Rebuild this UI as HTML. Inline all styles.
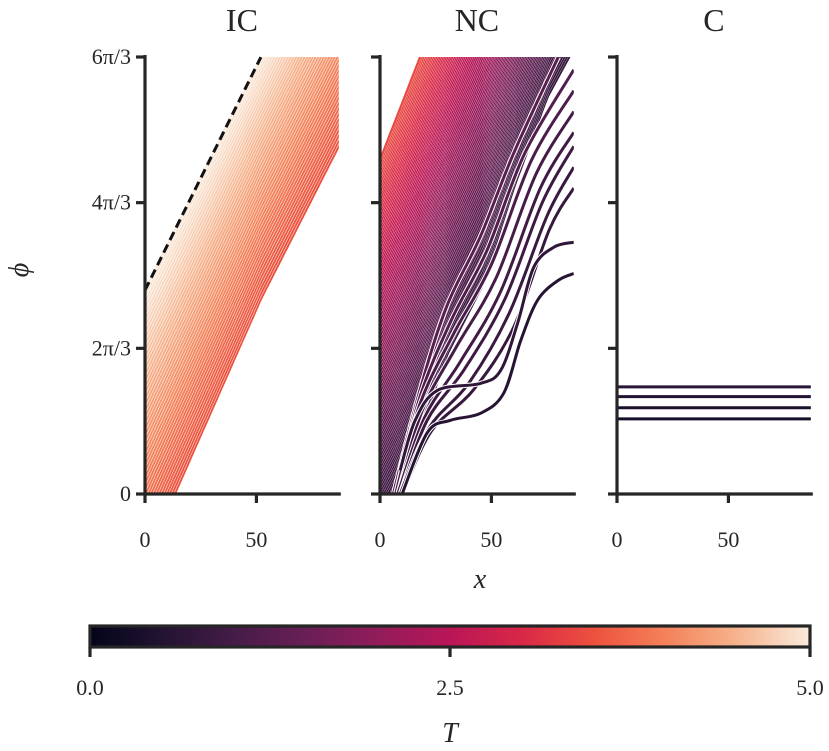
<!DOCTYPE html>
<html><head><meta charset="utf-8"><style>
body{margin:0;background:#fff}
svg{display:block}
text{font-family:"Liberation Serif",serif;fill:#262626}
</style></head><body>
<svg id="chart" width="829" height="751">
<defs>
<linearGradient id="rocket" x1="0" x2="1" y1="0" y2="0">
<stop offset="0" stop-color="#03051a"/><stop offset="0.1" stop-color="#221331"/><stop offset="0.2" stop-color="#451c47"/><stop offset="0.3" stop-color="#691f55"/><stop offset="0.4" stop-color="#921c5b"/><stop offset="0.5" stop-color="#b91657"/><stop offset="0.6" stop-color="#d92847"/><stop offset="0.7" stop-color="#ed513e"/><stop offset="0.8" stop-color="#f4825a"/><stop offset="0.9" stop-color="#f6b48e"/><stop offset="1" stop-color="#faebdd"/>
</linearGradient>
</defs>
</svg>
<script>
// ---- data ----
const panelNames = ["IC","NC","C"];
const yTickLabels = ["0","2\u03c0/3","4\u03c0/3","6\u03c0/3"];
const yTickValues = [0, 2.0944, 4.1888, 6.2832];
const xTickValues = [0, 50];
const cbarTicks = [0, 2.5, 5];
// IC band: top (straight) and bottom path
const icTop = [[0,2.93],[52,6.28],[87,8.5]];
const icBottom = [[-10,-1.7],[13.4,0],[52,2.8],[87,5.0]];
const icTRange = [3.5, 5.0];
const icCount = 46;
const icDashed = [[0,2.93],[52,6.28]];
// NC band
const ncTop = [[0,4.8],[18,6.28],[87,12]];
const ncBottom = [[-5,-0.6],[5.4,0],[18,0.9],[30,2.0],[46,3.0],[60,4.4],[75,5.7],[86,6.35],[100,7.2]];
const ncTRange = [0.8, 3.4];
const ncCount = 90;
// NC stray curves
const ncCurves = [
 [[6,0],[18,1.5],[30,2.7],[45,3.7],[60,4.9],[80,6.28]],
 [[7,0],[18,1.4],[32,2.5],[48,3.5],[65,4.9],[87,6.1]],
 [[7,0],[18,1.3],[33,2.3],[50,3.3],[68,4.8],[87,5.8]],
 [[8,0],[19,1.2],[34,2.1],[52,3.1],[70,4.6],[87,5.5]],
 [[8,0],[20,1.1],[36,1.9],[54,2.9],[72,4.4],[87,5.2]],
 [[9,0],[21,1.05],[38,1.8],[56,2.8],[73,4.2],[87,5.0]],
 [[9,0],[22,0.95],[40,1.6],[58,2.6],[75,4.0],[87,4.7]],
 [[10,0],[23,0.9],[42,1.5],[60,2.4],[76,3.8],[87,4.4]],
 [[9,0.34],[15.8,1.06],[25.7,1.49],[45.1,1.59],[54.2,1.78],[61.8,2.46],[69,3.26],[78.1,3.55],[87,3.62]],
 [[9.9,0],[21.2,0.88],[31.6,1.06],[45.1,1.16],[55.5,1.45],[63.2,2.21],[70.8,2.79],[79.9,3.07],[87,3.17]]
];
const ncCurveT = [1.3,1.2,1.1,1.0,0.95,0.9,0.85,0.8,0.7,0.55];
// C panel constant lines
const cLevels = [1.54,1.40,1.24,1.08];
const cT = [0.6,0.5,0.4,0.3];

// ---- helpers ----
const NS="http://www.w3.org/2000/svg";
const svg=document.getElementById('chart');
function mk(tag,attrs,parent){const e=document.createElementNS(NS,tag);for(const k in attrs)e.setAttribute(k,attrs[k]);(parent||svg).appendChild(e);return e;}
const panels=[{x0:145},{x0:380},{x0:617}];
const xScale=2.228, yTop=57, yBot=494, xMax=87;
const sy=v=>yBot-(v/6.2832)*(yBot-yTop);
const stops=[[0,[3,5,26]],[0.1,[34,19,49]],[0.2,[69,28,71]],[0.3,[105,31,85]],[0.4,[146,28,91]],[0.5,[185,22,87]],[0.6,[217,40,71]],[0.7,[237,81,62]],[0.8,[244,130,90]],[0.9,[246,180,142]],[1,[250,235,221]]];
function cmap(T){let t=Math.max(0,Math.min(1,T/5));for(let i=1;i<stops.length;i++){if(t<=stops[i][0]){const a=stops[i-1],b=stops[i],f=(t-a[0])/(b[0]-a[0]);return 'rgb('+a[1].map((c,j)=>Math.round(c+(b[1][j]-c)*f)).join(',')+')';}}return 'rgb(250,235,221)';}
function interp(path,x){if(x<=path[0][0]){const a=path[0],b=path[1];return a[1]+(b[1]-a[1])*(x-a[0])/(b[0]-a[0]);}for(let i=1;i<path.length;i++){if(x<=path[i][0]){const a=path[i-1],b=path[i];return a[1]+(b[1]-a[1])*(x-a[0])/(b[0]-a[0]);}}const a=path[path.length-2],b=path[path.length-1];return a[1]+(b[1]-a[1])*(x-a[0])/(b[0]-a[0]);}
function smoothD(pts){let d='M'+pts[0][0]+','+pts[0][1];for(let i=1;i<pts.length;i++){const p0=pts[i-2]||pts[i-1],p1=pts[i-1],p2=pts[i],p3=pts[i+1]||p2;const c1=[p1[0]+(p2[0]-p0[0])/6,p1[1]+(p2[1]-p0[1])/6],c2=[p2[0]-(p3[0]-p1[0])/6,p2[1]-(p3[1]-p1[1])/6];d+=' C'+c1.join(',')+' '+c2.join(',')+' '+p2.join(',');}return d;}

panels.forEach((p,i)=>{
  const cp=mk('clipPath',{id:'clip'+i},svg.querySelector('defs'));
  mk('rect',{x:p.x0,y:yTop,width:xMax*xScale,height:yBot-yTop},cp);
});
function band(pi,top,bot,count,Tr,name,w,wg){
  const g=mk('g',{'clip-path':'url(#clip'+pi+')'});
  
  
  const x0=panels[pi].x0;
  for(let k=0;k<count;k++){
    const f=k/(count-1);
    let d='';
    for(let x=-10;x<=xMax+1;x+=1.5){const v=(1-f)*interp(bot,x)+f*interp(top,x);d+=(d?'L':'M')+(x0+x*xScale).toFixed(1)+','+sy(v).toFixed(1);}
    mk('path',{d:d,fill:'none',stroke:'#fff','stroke-width':w+wg},g);
    const ln=mk('path',{d:d,fill:'none',stroke:cmap(Tr[0]+(Tr[1]-Tr[0])*f),'stroke-width':w},g);
    
    
  }
  return g;
}
band(0,icTop,icBottom,icCount,icTRange,'ic-trajectories',2.1,0.9);
const ncg=band(1,ncTop,ncBottom,ncCount,ncTRange,'nc-trajectories',2.4,0.5);
ncCurves.forEach((c,k)=>{
  const pts=c.map(q=>[+(panels[1].x0+q[0]*xScale).toFixed(1),+sy(q[1]).toFixed(1)]);
  mk('path',{d:smoothD(pts),fill:'none',stroke:'#fff','stroke-width':5},ncg);
  const ln=mk('path',{d:smoothD(pts),fill:'none',stroke:cmap(ncCurveT[k]),'stroke-width':3},ncg);
  
  
});
const dash=mk('path',{d:'M'+icDashed.map(q=>(panels[0].x0+q[0]*xScale)+','+sy(q[1])).join('L'),fill:'none',stroke:'#111','stroke-width':3,'stroke-dasharray':'9,5'});


cLevels.forEach((v,k)=>{
  const ln=mk('line',{x1:panels[2].x0,x2:panels[2].x0+xMax*xScale,y1:sy(v),y2:sy(v),stroke:cmap(cT[k]),'stroke-width':3});
  
  
});
// axes
panels.forEach((p,i)=>{
  const g=mk('g',{});
  
  
  mk('line',{x1:p.x0,x2:p.x0,y1:yTop-2,y2:yBot+1.5,stroke:'#262626','stroke-width':3.2},g);
  mk('line',{x1:p.x0-1.5,x2:p.x0+xMax*xScale+2,y1:yBot,y2:yBot,stroke:'#262626','stroke-width':3.2},g);
  yTickValues.forEach((v,k)=>{
    mk('line',{x1:p.x0-9,x2:p.x0,y1:sy(v),y2:sy(v),stroke:'#262626','stroke-width':3.2},g);
    if(i===0){const t=mk('text',{x:p.x0-14,y:sy(v)+7,'text-anchor':'end','font-size':22},g);t.textContent=yTickLabels[k];
      }
  });
  xTickValues.forEach(v=>{
    const x=p.x0+v*xScale;
    mk('line',{x1:x,x2:x,y1:yBot,y2:yBot+9,stroke:'#262626','stroke-width':3.2},g);
    const t=mk('text',{x:x,y:yBot+53,'text-anchor':'middle','font-size':22},g);t.textContent=v;
    
  });
  const tt=mk('text',{x:p.x0+xMax*xScale/2,y:31,'text-anchor':'middle','font-size':32},g);tt.textContent=panelNames[i];
  
});
const yl=mk('text',{x:28,y:270,'text-anchor':'middle','font-size':28,'font-style':'italic',transform:'rotate(-90 28 270)'});yl.textContent='\u03d5';

const xl=mk('text',{x:480,y:588,'text-anchor':'middle','font-size':28,'font-style':'italic'});xl.textContent='x';

// colorbar
const cb=mk('rect',{x:90,y:626,width:720,height:21,fill:'url(#rocket)',stroke:'#262626','stroke-width':3.2});

cbarTicks.forEach(v=>{
  const x=90+v/5*720;
  mk('line',{x1:x,x2:x,y1:647,y2:657,stroke:'#262626','stroke-width':3.2});
  const t=mk('text',{x:x,y:695,'text-anchor':'middle','font-size':22});t.textContent=v.toFixed(1);
  
});
const cl=mk('text',{x:450,y:742,'text-anchor':'middle','font-size':28,'font-style':'italic'});cl.textContent='T';

</script>
</body></html>
